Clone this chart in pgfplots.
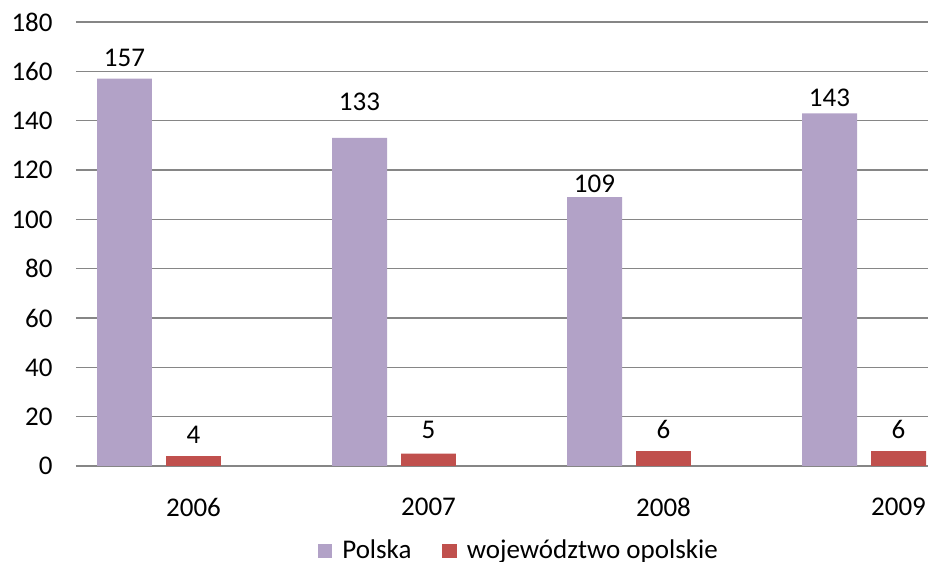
\documentclass[border=0pt]{standalone}
\usepackage{fontspec}
\setmainfont{Carlito}
\usepackage{pgfplots}
\usepackage{pgfplotstable}
\pgfplotsset{compat=1.18}
\definecolor{pol}{RGB}{178,162,199}
\definecolor{opo}{RGB}{192,80,77}
\definecolor{gridc}{RGB}{134,134,134}
\pgfplotstableread{
x y dy
0 157 0
1 133 7.5
2 109 -4
3 143 -3
}\polska
\pgfplotstableread{
x y dy
0 4 0
1 5 1.5
2 6 0
3 6 0
}\opolskie
\begin{document}
\fontsize{13.5}{16}\selectfont
\begin{tikzpicture}
\path[use as bounding box] (-38pt,-48pt) rectangle (426pt,233pt);
\begin{axis}[
 at={(0,0)}, anchor=south west,
 scale only axis, width=426pt, height=222pt,
 ymin=0, ymax=180, ytick={0,20,...,180},
 xmin=-0.5, xmax=3.1255,
 xtick={0,1,2,3}, xticklabels={2006,2007,2008,2009},
 axis line style={draw=none},
 major tick length=0pt,
 ymajorgrids, grid style={gridc, line width=0.6pt},
 ybar, bar width=0.234,
 /pgf/number format/assume math mode=true,
 /pgf/number format/1000 sep={},
 tick label style={font=\fontsize{13.5}{16}\selectfont},
 yticklabel style={xshift=-7pt},
 xticklabel style={yshift=-11.5pt},
 nodes near coords,
 visualization depends on={\thisrow{dy} \as \dy},
 nodes near coords style={font=\fontsize{13.5}{16}\selectfont, yshift=1.5pt+\dy pt, text=black},
 legend style={at={(0.521,-0.191)}, anchor=center, draw=none, fill=none,
   legend columns=-1, font=\fontsize{13.5}{16}\selectfont,
   /tikz/every odd column/.append style={column sep=3pt},
   /tikz/every even column/.append style={column sep=13.5pt}},
 legend image code/.code={\fill[#1] (0pt,-3.6pt) rectangle (7.2pt,3.6pt);},
]
\addplot[fill=pol, draw=none, bar shift=-0.2936] table[x=x,y=y] {\polska};
\addplot[fill=opo, draw=none, bar shift=0] table[x=x,y=y] {\opolskie};
\legend{Polska, województwo opolskie}
\end{axis}
\end{tikzpicture}
\end{document}
